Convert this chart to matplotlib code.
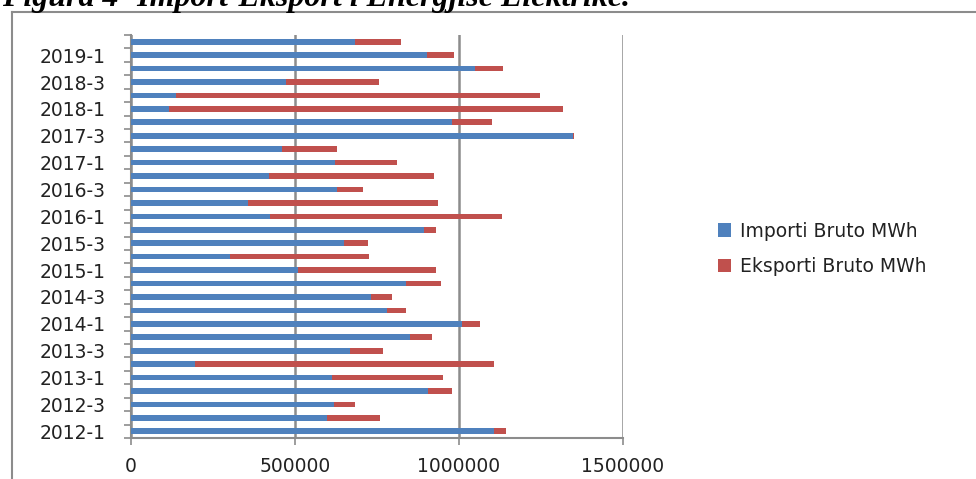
import numpy as np
import matplotlib.pyplot as plt
from matplotlib.lines import Line2D

# quarters 2012-1 .. 2019-2 (bottom to top)
periods = [f"{y}-{q}" for y in range(2012, 2020) for q in range(1, 5)][:30]

# gross import / export per quarter, MWh
importi = [1108000, 598000, 618000, 906000, 613000, 194000, 668000, 851000,
           1008000, 780000, 733000, 838000, 508000, 301000, 649000, 892000,
           423000, 356000, 629000, 420000, 623000, 459000, 1348000, 979000,
           116000, 137000, 472000, 1050000, 903000, 684000]
eksporti = [36000, 162000, 66000, 72000, 337000, 914000, 99000, 67000,
            57000, 58000, 62000, 108000, 423000, 424000, 75000, 38000,
            709000, 579000, 79000, 503000, 188000, 169000, 3000, 122000,
            1202000, 1110000, 284000, 85000, 82000, 139000]

blue = '#4F81BD'
red = '#C0504D'
grey = '#8C8C8C'

fig = plt.figure(figsize=(9.76, 4.79), dpi=100)
ax = fig.add_axes([131 / 976, 1 - 438 / 479, 492 / 976, 403 / 479])

y = np.arange(len(periods))
ax.barh(y, importi, height=0.42, color=blue, label='Importi Bruto MWh', zorder=3)
ax.barh(y, eksporti, left=importi, height=0.42, color=red,
        label='Eksporti Bruto MWh', zorder=3)

ax.set_xlim(0, 1500000)
ax.set_ylim(-0.5, len(periods) - 0.5)
ax.set_xticks([0, 500000, 1000000, 1500000])
ax.set_xticklabels(['0', '500000', '1000000', '1500000'])
ax.grid(axis='x', color=grey, linewidth=1.8, zorder=0)

# tick marks between categories, labels on every second category
ax.set_yticks(np.arange(-0.5, len(periods), 1))
ax.set_yticklabels([])
ax.set_yticks(y[::2], minor=True)
ax.set_yticklabels(periods[::2], minor=True)
ax.tick_params(axis='y', which='major', length=5, width=1.2, color=grey)
ax.tick_params(axis='y', which='minor', length=0, pad=18, labelsize=13.5,
               labelcolor='#222222')
ax.tick_params(axis='x', length=5, width=1.2, color=grey, pad=9,
               labelsize=13.5, labelcolor='#222222')

for s in ['top', 'right']:
    ax.spines[s].set_visible(False)
for s in ['left', 'bottom']:
    ax.spines[s].set_color(grey)
    ax.spines[s].set_linewidth(1.5)

fig.legend(loc='center left', bbox_to_anchor=(701 / 976, 1 - 249 / 479),
           frameon=False, fontsize=13.5, handlelength=0.7, handleheight=0.7,
           handletextpad=0.5, labelspacing=0.9, labelcolor='#222222')

# outer chart border (left and top edges visible)
fig.add_artist(Line2D([12 / 976, 12 / 976], [0, 1 - 12 / 479],
                      transform=fig.transFigure, color=grey, linewidth=1.5))
fig.add_artist(Line2D([12 / 976, 1], [1 - 12 / 479, 1 - 12 / 479],
                      transform=fig.transFigure, color=grey, linewidth=1.5))

# title, cut at the top edge like the source
fig.text(0.002, 1 - 6 / 479, 'Figura 4- Import-Eksport i Energjisë Elektrike.',
         fontsize=23, fontweight='bold', fontstyle='italic',
         family='Liberation Serif', va='baseline', ha='left')

fig.savefig('out.png', dpi=100)
